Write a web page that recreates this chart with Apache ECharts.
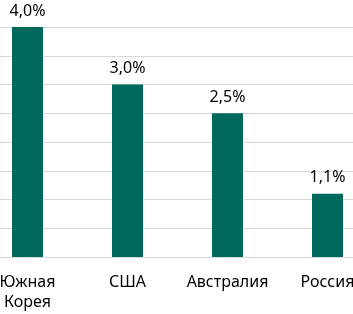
<!DOCTYPE html>
<html>
<head>
<meta charset="utf-8">
<script src="https://cdn.jsdelivr.net/npm/echarts@6/dist/echarts.min.js"></script>
<style>
  html, body { margin: 0; padding: 0; background: #fff; }
  #chart { width: 353px; height: 314px; }
</style>
</head>
<body>
<div id="chart"></div>
<script>
var countries = ['Южная\nКорея', 'США', 'Австралия', 'Россия'];
var shares = [4.0, 3.0, 2.5, 1.1];

var myChart = echarts.init(document.getElementById('chart'));
var option = {
    animation: false,
    grid: {
        left: -22.5,
        width: 400,
        top: 27,
        bottom: 57,
        outerBoundsMode: 'none',
        containLabel: false
    },
    xAxis: {
        type: 'category',
        data: countries,
        axisTick: { show: false },
        axisLine: { lineStyle: { color: '#d9d9d9', width: 1 } },
        axisLabel: {
            interval: 0,
            hideOverlap: false,
            color: '#000',
            fontFamily: 'Noto Sans',
            fontSize: 16,
            lineHeight: 20,
            margin: 15
        }
    },
    yAxis: {
        type: 'value',
        min: 0,
        max: 4,
        interval: 0.5,
        axisLabel: { show: false },
        axisLine: { show: false },
        axisTick: { show: false },
        splitLine: { lineStyle: { color: '#d9d9d9', width: 1 } }
    },
    series: [{
        type: 'bar',
        data: shares,
        barWidth: 31,
        itemStyle: { color: '#00695e' },
        label: {
            show: true,
            position: 'top',
            distance: 8,
            color: '#000',
            fontFamily: 'Noto Sans',
            fontSize: 16,
            formatter: function (p) {
                return p.value.toFixed(1).replace('.', ',') + '%';
            }
        }
    }]
};
myChart.setOption(option);
</script>
</body>
</html>
